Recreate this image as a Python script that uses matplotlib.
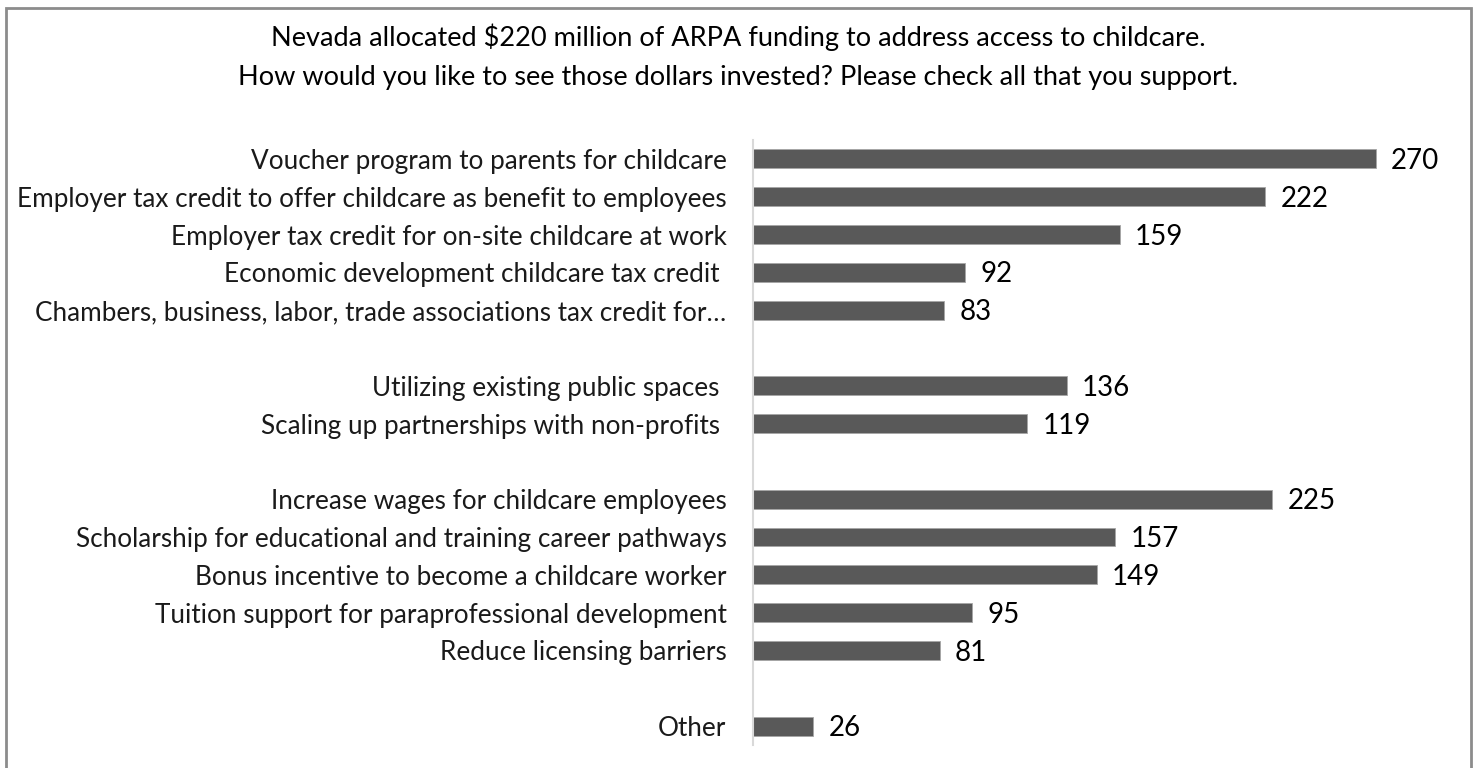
import matplotlib
matplotlib.use("Agg")
import matplotlib.pyplot as plt
from matplotlib.patches import Rectangle

categories = [
    "Voucher program to parents for childcare",
    "Employer tax credit to offer childcare as benefit to employees",
    "Employer tax credit for on-site childcare at work",
    "Economic development childcare tax credit ",
    "Chambers, business, labor, trade associations tax credit for\u2026",
    "",
    "Utilizing existing public spaces ",
    "Scaling up partnerships with non-profits ",
    "",
    "Increase wages for childcare employees",
    "Scholarship for educational and training career pathways",
    "Bonus incentive to become a childcare worker",
    "Tuition support for paraprofessional development",
    "Reduce licensing barriers",
    "",
    "Other",
]
values = [270, 222, 159, 92, 83, None, 136, 119, None, 225, 157, 149, 95, 81, None, 26]
title = ("Nevada allocated $220 million of ARPA funding to address access to childcare.\n"
         "How would you like to see those dollars invested? Please check all that you support.")

plt.rcParams['font.family'] = ['Lato', 'DejaVu Sans']

fig = plt.figure(figsize=(14.76, 7.68), dpi=100)
ax = fig.add_axes([753/1476, 1 - 745/768, (1445 - 753)/1476, (745 - 140)/768])

ypos = list(range(len(categories)))
bar_vals = [v if v is not None else 0 for v in values]
bars = ax.barh(ypos, bar_vals, height=0.5, color='#595959', edgecolor='#A6A6A6', linewidth=0.6)
for y, v in zip(ypos, values):
    if v is None:
        continue
    ax.annotate(str(v), xy=(v, y), xytext=(11, -1.5), textcoords='offset points',
                ha='left', va='center', fontsize=20, color='black')

ax.set_xlim(0, 300)
ax.set_ylim(len(categories) - 0.5, -0.5)
ax.set_yticks(ypos)
ax.set_yticklabels(categories, fontsize=18.8, color='#1a1a1a')
ax.tick_params(axis='y', length=0, pad=19)
ax.set_xticks([])
for s in ['top', 'right', 'bottom']:
    ax.spines[s].set_visible(False)
ax.spines['left'].set_color('#D9D9D9')
ax.spines['left'].set_linewidth(1.5)

fig.text(0.5, 1 - 57/768, title, ha='center', va='center', fontsize=19.5,
         linespacing=1.68, color='black')

# figure border
fig.add_artist(Rectangle((6/1476, -0.01), (1471 - 6)/1476, 1 - 8/768 + 0.01,
                         transform=fig.transFigure, fill=False,
                         edgecolor='#8C8C8C', linewidth=2))

fig.savefig("out.png", dpi=100, facecolor='white')
